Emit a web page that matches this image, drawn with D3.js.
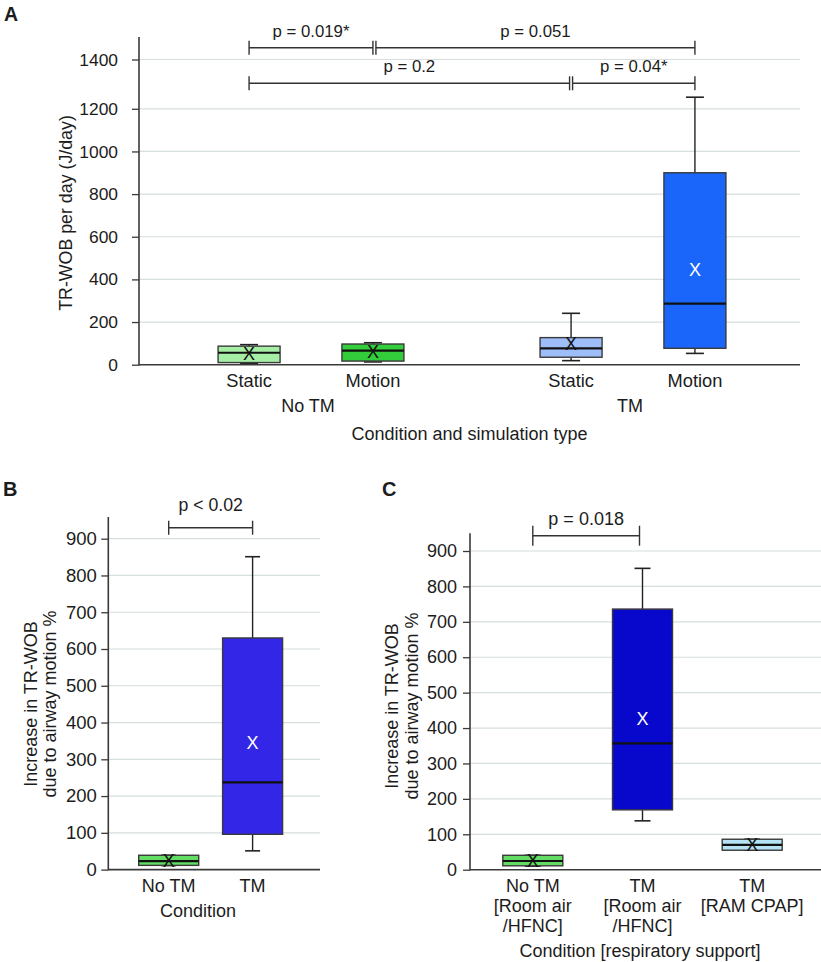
<!DOCTYPE html>
<html><head><meta charset="utf-8">
<script src="https://cdn.jsdelivr.net/npm/d3@7"></script>
<style>
body{margin:0;background:#fff}
text{font-family:"Liberation Sans",Arial,Helvetica,sans-serif;fill:#1c1c1c}
</style>
</head><body>
<svg id="chart" width="821" height="962"></svg>
<script>
// ---------------- DATA ----------------
// Panel A
const groupsA = ["No TM", "TM"];
const typesA = ["Static", "Motion"];
const yTicksA = [0, 200, 400, 600, 800, 1000, 1200, 1400];
const boxGroupA = ["No TM", "No TM", "TM", "TM"];
const boxTypeA  = ["Static", "Motion", "Static", "Motion"];
const minA    = [7, 13, 19, 53];
const q1A     = [10, 17, 35, 77];
const medianA = [56, 66, 77, 286];
const q3A     = [87, 97, 127, 900];
const maxA    = [94, 103, 241, 1247];
const meanA   = [53, 60, 100, 444];
const colorsA = ["#a6eea6", "#33cc3a", "#9ebefa", "#1a66fa"];
const markA   = ["#111", "#111", "#111", "#fff"];
const pLabelsA = ["p = 0.019*", "p = 0.051", "p = 0.2", "p = 0.04*"];

// Panel B
const catsB = ["No TM", "TM"];
const yTicksB = [0, 100, 200, 300, 400, 500, 600, 700, 800, 900];
const minB    = [11, 51];
const q1B     = [11.5, 96];
const medianB = [23, 237];
const q3B     = [39, 630];
const maxB    = [39, 851];
const meanB   = [26, 346];
const colorsB = ["#62dc62", "#3326e6"];
const markB   = ["#111", "#fff"];
const pLabelB = "p < 0.02";

// Panel C
const catsC = ["No TM|[Room air|/HFNC]", "TM|[Room air|/HFNC]", "TM|[RAM CPAP]"];
const yTicksC = [0, 100, 200, 300, 400, 500, 600, 700, 800, 900];
const minC    = [10, 138, 55];
const q1C     = [11, 169, 55];
const medianC = [24.6, 357, 70];
const q3C     = [40.7, 736, 86];
const maxC    = [40.7, 851, 86];
const meanC   = [27, 428, 70];
const colorsC = ["#62dc62", "#0808cc", "#b6e2f5"];
const markC   = ["#111", "#fff", "#111"];
const pLabelC = "p = 0.018";

// ---------------- DRAWING ----------------
const svg = d3.select("#chart");
const AXIS = "#3a3a3a", GRID = "#d6dede";

function drawYAxis(g, y, ticks, x0, x1, top, fs, pad) {
  g.selectAll(null).data(ticks.filter(d => d > 0)).join("line")
    .attr("x1", x0).attr("x2", x1).attr("y1", d => y(d)).attr("y2", d => y(d))
    .attr("stroke", GRID).attr("stroke-width", 1.2);
  const ax = g.append("g").attr("transform", `translate(${x0},0)`)
    .call(d3.axisLeft(y).tickValues(ticks).tickFormat(d3.format("d"))
      .tickSize(7).tickSizeOuter(0).tickPadding(pad));
  ax.select(".domain").remove();
  ax.selectAll(".tick line").attr("stroke", AXIS).attr("stroke-width", 1.3);
  ax.selectAll(".tick text").attr("font-size", fs).attr("fill", "#1c1c1c")
    .attr("font-family", '"Liberation Sans",Arial,sans-serif');
  g.append("line").attr("x1", x0).attr("x2", x0).attr("y1", top).attr("y2", y(0) + 0.7)
    .attr("stroke", AXIS).attr("stroke-width", 1.6);
  g.append("line").attr("x1", x0).attr("x2", x1).attr("y1", y(0)).attr("y2", y(0))
    .attr("stroke", AXIS).attr("stroke-width", 1.6);
}

function drawBoxes(g, boxes, y, bw, cap, fsX) {
  const b = g.selectAll(null).data(boxes).join("g");
  b.append("line").attr("x1", d => d.x).attr("x2", d => d.x)
    .attr("y1", d => y(d.max)).attr("y2", d => y(d.q3)).attr("stroke", "#222").attr("stroke-width", 1.4);
  b.append("line").attr("x1", d => d.x).attr("x2", d => d.x)
    .attr("y1", d => y(d.min)).attr("y2", d => y(d.q1)).attr("stroke", "#222").attr("stroke-width", 1.4);
  b.append("line").attr("x1", d => d.x - cap / 2).attr("x2", d => d.x + cap / 2)
    .attr("y1", d => y(d.max)).attr("y2", d => y(d.max)).attr("stroke", "#222").attr("stroke-width", 1.6);
  b.append("line").attr("x1", d => d.x - cap / 2).attr("x2", d => d.x + cap / 2)
    .attr("y1", d => y(d.min)).attr("y2", d => y(d.min)).attr("stroke", "#222").attr("stroke-width", 1.6);
  b.append("rect").attr("x", d => d.x - bw / 2).attr("width", bw)
    .attr("y", d => y(d.q3)).attr("height", d => y(d.q1) - y(d.q3))
    .attr("fill", d => d.color).attr("stroke", "#3a3a3a").attr("stroke-width", 1.4);
  b.append("line").attr("x1", d => d.x - bw / 2).attr("x2", d => d.x + bw / 2)
    .attr("y1", d => y(d.median)).attr("y2", d => y(d.median)).attr("stroke", "#111").attr("stroke-width", 2.2);
  b.append("text").attr("x", d => d.x).attr("y", d => y(d.mean)).attr("dy", "0.36em")
    .attr("text-anchor", "middle").attr("font-size", fsX)
    .style("fill", d => d.mark).text("X");
}

function bracket(g, xa, xb, yy, h, label, fs, labelDy) {
  g.append("line").attr("x1", xa).attr("x2", xb).attr("y1", yy).attr("y2", yy)
    .attr("stroke", "#333").attr("stroke-width", 1.4);
  [xa, xb].forEach(t => g.append("line").attr("x1", t).attr("x2", t)
    .attr("y1", yy - h).attr("y2", yy + h).attr("stroke", "#333").attr("stroke-width", 1.4));
  g.append("text").attr("x", (xa + xb) / 2).attr("y", yy - labelDy)
    .attr("text-anchor", "middle").attr("font-size", fs).text(label);
}

function yTitle(g, x, y, lines, fs, lh) {
  const t = g.append("text").attr("transform", `translate(${x},${y}) rotate(-90)`)
    .attr("text-anchor", "middle").attr("font-size", fs);
  lines.forEach((l, i) => t.append("tspan").attr("x", 0).attr("y", i * lh).text(l));
}

// ===== Panel A =====
{
  const g = svg.append("g");
  const x0 = 139, x1 = 800, top = 37;
  const y = d3.scaleLinear().domain([0, 1200, 1400]).range([364.7, 108.8, 59.5]);
  const xg = d3.scaleBand().domain(groupsA).range([x0 + 11, x0 + 655]).padding(0);
  const xi = d3.scalePoint().domain(typesA).range([0, xg.bandwidth()]).padding(0.8);
  const xpos = (gr, t) => xg(gr) + xi(t);

  drawYAxis(g, y, yTicksA, x0, x1, top, 17.4, 14);

  const boxes = boxGroupA.map((gr, i) => ({
    x: xpos(gr, boxTypeA[i]), min: minA[i], q1: q1A[i], median: medianA[i], q3: q3A[i],
    max: maxA[i], mean: meanA[i], color: colorsA[i], mark: markA[i]
  }));
  drawBoxes(g, boxes, y, 62, 18, 18);

  boxes.forEach((d, i) => g.append("text").attr("x", d.x).attr("y", 386.7)
    .attr("text-anchor", "middle").attr("font-size", 18.3).text(boxTypeA[i]));
  groupsA.forEach(gr => g.append("text").attr("x", xg(gr) + xg.bandwidth() / 2 - 3).attr("y", 412)
    .attr("text-anchor", "middle").attr("font-size", 18).text(gr));
  g.append("text").attr("x", (x0 + x1) / 2).attr("y", 440).attr("text-anchor", "middle")
    .attr("font-size", 18).text("Condition and simulation type");
  yTitle(g, 72, 213, ["TR-WOB per day (J/day)"], 17.8, 0);

  const sN = xpos("No TM", "Static"), mN = xpos("No TM", "Motion");
  const sT = xpos("TM", "Static"), mT = xpos("TM", "Motion");
  bracket(g, sN, mN, 47.7, 7, pLabelsA[0], 16.8, 11);
  bracket(g, mN + 3, mT, 47.7, 7, pLabelsA[1], 16.8, 11);
  bracket(g, sN, sT - 1.5, 83.3, 7, pLabelsA[2], 16.8, 11);
  bracket(g, sT + 1.5, mT, 83.3, 7, pLabelsA[3], 16.8, 11);

  g.append("text").attr("x", 4).attr("y", 20.5).attr("font-size", 19.5).attr("font-weight", "bold").text("A");
}

// ===== Panel B =====
{
  const g = svg.append("g");
  const x0 = 108.3, x1 = 320, top = 517;
  const y = d3.scaleLinear().domain([0, 900]).range([869.6, 538.7]);
  const x = d3.scalePoint().domain(catsB).range([x0, x1 - 7]).padding(0.72);
  drawYAxis(g, y, yTicksB, x0, x1, top, 18.5, 4.5);
  const boxes = catsB.map((c, i) => ({
    x: x(c), min: minB[i], q1: q1B[i], median: medianB[i], q3: q3B[i],
    max: maxB[i], mean: meanB[i], color: colorsB[i], mark: markB[i]
  }));
  drawBoxes(g, boxes, y, 60, 15, 18);
  catsB.forEach(c => g.append("text").attr("x", x(c)).attr("y", 891.7)
    .attr("text-anchor", "middle").attr("font-size", 18).text(c));
  g.append("text").attr("x", 198).attr("y", 916.7).attr("text-anchor", "middle")
    .attr("font-size", 18).text("Condition");
  yTitle(g, 37, 704, ["Increase in TR-WOB", "due to airway motion %"], 18, 19);
  bracket(g, x(catsB[0]), x(catsB[1]), 527.7, 7, pLabelB, 17.7, 17);
  g.append("text").attr("x", 3).attr("y", 496).attr("font-size", 20).attr("font-weight", "bold").text("B");
}

// ===== Panel C =====
{
  const g = svg.append("g");
  const x0 = 470, x1 = 821, top = 533.3;
  const y = d3.scaleLinear().domain([0, 900]).range([869.7, 551]);
  const x = d3.scalePoint().domain(catsC).range([x0 - 3, x1 - 3]).padding(0.6);
  drawYAxis(g, y, yTicksC, x0, x1, top, 18, 6);
  const boxes = catsC.map((c, i) => ({
    x: x(c), min: minC[i], q1: q1C[i], median: medianC[i], q3: q3C[i],
    max: maxC[i], mean: meanC[i], color: colorsC[i], mark: markC[i]
  }));
  drawBoxes(g, boxes, y, 60, 16, 18);
  catsC.forEach(c => {
    const t = g.append("text").attr("text-anchor", "middle").attr("font-size", 18);
    c.split("|").forEach((l, i) => t.append("tspan").attr("x", x(c)).attr("y", 891.7 + i * 20).text(l));
  });
  g.append("text").attr("x", 640).attr("y", 956.7).attr("text-anchor", "middle")
    .attr("font-size", 18).text("Condition [respiratory support]");
  yTitle(g, 398, 706, ["Increase in TR-WOB", "due to airway motion %"], 18, 19.5);
  bracket(g, x(catsC[0]), x(catsC[1]) - 3, 535.7, 10, pLabelC, 18, 11);
  g.append("text").attr("x", 382).attr("y", 496).attr("font-size", 20).attr("font-weight", "bold").text("C");
}
</script>
</body></html>
